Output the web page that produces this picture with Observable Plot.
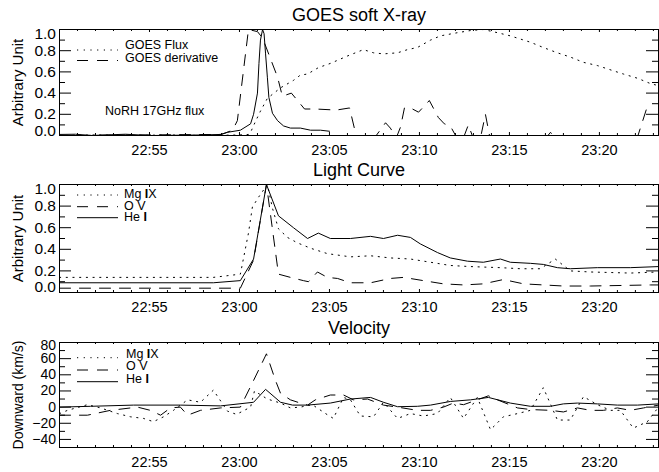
<!DOCTYPE html>
<html>
<head>
<meta charset="utf-8">
<script src="https://cdn.jsdelivr.net/npm/d3@7"></script>
<script src="https://cdn.jsdelivr.net/npm/@observablehq/plot@0.6"></script>
<style>
  html, body { margin: 0; padding: 0; background: #fff; }
  #chart { width: 659px; height: 472px; }
  #chart svg { display: block; }
</style>
</head>
<body>
<div id="chart"></div>
<script>
// ---- GOES soft X-ray panel: [UT time, normalised value] ----
const goesFlux = [
  ["22:50:00",0.00],["22:52:00",0.005],["22:54:00",0.00],["22:56:00",0.005],["22:58:00",0.00],
  ["23:00:00",0.005],["23:00:30",0.01],["23:00:37",0.03],["23:00:53",0.13],["23:01:10",0.23],
  ["23:01:33",0.35],["23:02:17",0.45],["23:03:00",0.52],["23:03:23",0.57],["23:03:47",0.58],
  ["23:04:23",0.64],["23:05:03",0.68],["23:06:00",0.75],["23:06:53",0.81],["23:07:27",0.78],
  ["23:08:00",0.77],["23:08:47",0.78],["23:09:20",0.81],["23:09:53",0.83],["23:10:37",0.90],
  ["23:11:10",0.94],["23:12:07",0.97],["23:12:50",0.99],["23:13:33",1.00],["23:14:20",0.97],
  ["23:15:03",0.94],["23:16:10",0.88],["23:16:53",0.83],["23:17:40",0.78],["23:18:23",0.74],
  ["23:19:07",0.69],["23:19:53",0.66],["23:20:47",0.61],["23:21:20",0.58],["23:22:07",0.54],
  ["23:22:50",0.49],["23:23:17",0.47]
];
const goesDerivative = [
  ["22:50:00",0.00],["22:59:00",0.01],["22:59:37",0.05],["22:59:53",0.14],["23:00:30",1.00],
  ["23:01:00",0.98],["23:01:17",0.92],["23:02:07",0.55],["23:02:23",0.37],["23:02:53",0.40],
  ["23:03:37",0.25],["23:04:13",0.25],["23:05:23",0.24],["23:06:07",0.26],["23:06:33",-0.05],
  ["23:07:23",-0.05],["23:08:07",0.12],["23:08:23",0.07],["23:08:43",-0.02],["23:08:57",0.08],
  ["23:09:10",0.26],["23:09:30",0.26],["23:09:57",0.22],["23:10:33",0.33],["23:11:03",0.17],
  ["23:11:23",0.11],["23:11:43",0.09],["23:12:10",-0.05],["23:12:27",-0.02],["23:12:43",0.10],
  ["23:13:00",-0.03],["23:13:23",-0.03],["23:13:40",0.20],["23:13:57",-0.05],["23:17:00",-0.03],
  ["23:17:17",0.03],["23:17:33",-0.03],["23:22:03",-0.05],["23:22:37",0.25]
];
const norh17GHz = [
  ["22:50:00",0.01],["22:50:53",0.012],["22:51:43",0.00],["22:53:40",0.012],["22:55:03",0.00],
  ["22:57:50",0.005],["22:58:57",0.01],["22:59:20",0.03],["23:00:03",0.05],["23:00:37",0.11],
  ["23:00:47",0.20],["23:01:00",0.40],["23:01:05",0.68],["23:01:10",0.90],["23:01:17",1.00],
  ["23:01:22",0.96],["23:01:27",0.77],["23:01:33",0.55],["23:01:38",0.36],["23:01:50",0.21],
  ["23:02:07",0.14],["23:02:27",0.09],["23:02:50",0.07],["23:03:23",0.07],["23:03:57",0.05],
  ["23:04:30",0.05],["23:05:00",0.04]
];

// ---- Light curves: [UT time, normalised intensity] ----
const lightMgIX = [
  ["22:50:00",0.14],["22:58:33",0.14],["23:00:03",0.17],["23:00:30",0.55],["23:00:43",0.79],
  ["23:01:03",0.88],["23:01:33",1.00],["23:01:50",0.78],["23:02:10",0.59],["23:02:40",0.51],
  ["23:03:13",0.46],["23:03:57",0.41],["23:04:53",0.36],["23:06:10",0.33],["23:07:17",0.34],
  ["23:08:23",0.32],["23:09:30",0.31],["23:10:37",0.28],["23:11:43",0.25],["23:12:50",0.24],
  ["23:14:30",0.23],["23:15:37",0.22],["23:16:43",0.22],["23:17:33",0.31],["23:18:23",0.20],
  ["23:19:30",0.19],["23:21:43",0.18],["23:23:17",0.19]
];
const lightOV = [
  ["22:50:00",0.04],["23:00:03",0.04],["23:00:47",0.30],["23:01:30",1.00],["23:02:10",0.17],
  ["23:02:50",0.14],["23:03:33",0.11],["23:03:50",0.10],["23:04:20",0.19],["23:04:53",0.14],
  ["23:05:27",0.13],["23:06:10",0.09],["23:07:17",0.09],["23:08:23",0.13],["23:09:07",0.14],
  ["23:10:13",0.11],["23:11:20",0.08],["23:12:27",0.07],["23:13:33",0.08],["23:14:40",0.12],
  ["23:15:47",0.08],["23:16:53",0.07],["23:18:00",0.06],["23:19:30",0.06],["23:22:50",0.07],
  ["23:23:17",0.07]
];
const lightHeI = [
  ["22:50:00",0.09],["22:58:33",0.09],["23:00:03",0.11],["23:00:47",0.31],["23:01:30",1.00],
  ["23:02:10",0.71],["23:03:00",0.60],["23:03:47",0.50],["23:04:23",0.55],["23:05:03",0.50],
  ["23:06:10",0.50],["23:07:17",0.52],["23:08:00",0.50],["23:08:47",0.53],["23:09:30",0.51],
  ["23:10:03",0.45],["23:11:00",0.37],["23:11:43",0.32],["23:12:40",0.29],["23:13:33",0.28],
  ["23:14:30",0.31],["23:15:03",0.28],["23:16:10",0.27],["23:16:53",0.26],["23:17:40",0.23],
  ["23:18:23",0.22],["23:19:53",0.23],["23:21:43",0.23],["23:23:17",0.24]
];

// ---- Downward velocity (km/s): [UT time, velocity] ----
const velMgIX = [
  ["22:50:00",-8],["22:50:27",-4],["22:51:33",3],["22:52:17",-1],["22:53:13",-8],["22:53:57",-12],
  ["22:54:40",-14],["22:55:13",-18],["22:55:47",-12],["22:56:20",-4],["22:57:07",9],["22:57:50",6],
  ["22:58:33",21],["22:59:20",-5],["22:59:50",-9],["23:00:37",0],["23:00:50",20],["23:01:33",10],
  ["23:02:17",5],["23:02:50",-1],["23:03:23",0],["23:04:03",3],["23:04:47",-8],["23:05:13",-14],
  ["23:05:47",12],["23:06:10",9],["23:06:43",-11],["23:07:27",-12],["23:08:00",6],["23:08:47",-14],
  ["23:09:30",-8],["23:10:13",-11],["23:11:00",-8],["23:11:43",12],["23:12:27",-14],["23:13:13",12],
  ["23:13:57",-28],["23:14:40",-12],["23:15:27",-8],["23:16:10",-4],["23:16:53",24],["23:17:40",-16],
  ["23:18:23",-16],["23:19:07",13],["23:19:53",3],["23:20:37",-4],["23:21:10",-4],["23:21:53",-26],
  ["23:22:40",-18],["23:23:17",0]
];
const velOV = [
  ["22:50:00",-10],["22:51:33",-10],["22:52:50",-4],["22:54:20",0],["22:55:03",-4],["22:55:37",-10],
  ["22:56:10",-1],["22:56:43",0],["22:57:07",-10],["22:57:50",-4],["22:58:57",-1],["23:00:03",0],
  ["23:00:47",33],["23:01:30",66],["23:02:00",33],["23:02:17",17],["23:02:50",9],["23:03:23",5],
  ["23:03:47",2.5],["23:04:13",9],["23:05:03",15],["23:05:47",15],["23:06:20",9],["23:07:07",10],
  ["23:08:00",2.5],["23:08:47",0],["23:09:53",-4],["23:10:37",-4],["23:11:20",0],["23:11:53",5],
  ["23:12:27",3],["23:13:13",9],["23:13:50",14],["23:14:20",9],["23:15:27",-1],["23:16:10",-3],
  ["23:17:17",-4],["23:18:00",-6],["23:18:47",-1],["23:19:30",-4],["23:20:13",-4],["23:21:00",-1],
  ["23:21:43",-4],["23:22:27",-1],["23:23:17",2.5]
];
const velHeI = [
  ["22:50:00",0],["22:51:43",1],["22:54:07",2.5],["22:56:43",2.5],["22:58:57",1.5],["23:00:47",6],
  ["23:01:27",22],["23:02:17",6],["23:02:57",2.5],["23:03:47",2.5],["23:05:03",5],["23:06:10",10],
  ["23:07:17",12],["23:08:00",6],["23:08:47",0.5],["23:09:53",1],["23:10:37",2.5],["23:11:43",7],
  ["23:12:50",9],["23:13:50",12],["23:15:03",5],["23:16:10",1],["23:17:17",1],["23:18:00",4],
  ["23:18:47",5],["23:19:53",4],["23:21:00",2.5],["23:22:07",2.5],["23:23:17",4]
];

// ---- Axis ticks and text ----
const timeRange = ["22:50:00", "23:23:17"];
const timeMajor = ["22:55", "23:00", "23:05", "23:10", "23:15", "23:20"];
const timeMinor = ["22:51","22:52","22:53","22:54","22:56","22:57","22:58","22:59","23:01","23:02","23:03","23:04",
  "23:06","23:07","23:08","23:09","23:11","23:12","23:13","23:14","23:16","23:17","23:18","23:19","23:21","23:22","23:23"];
const unitMajor = [0, 0.2, 0.4, 0.6, 0.8, 1.0];
const unitMinor = [0.1, 0.3, 0.5, 0.7, 0.9];
const velMajor = [-40, -20, 0, 20, 40, 60, 80];
const velMinor = [-30, -10, 10, 30, 50, 70];
const titles = ["GOES soft X-ray", "Light Curve", "Velocity"];
const yTitles = ["Arbitrary Unit", "Arbitrary Unit", "Downward (km/s)"];
const goesLegend = ["GOES Flux", "GOES derivative"];
const norhNote = "NoRH 17GHz flux";
// line names, split so the ionisation numeral "I" can be set in bold
const lineLegend = [[["Mg ", false], ["I", true], ["X", false]], [["O V", false]], [["He ", false], ["I", true]]];

// ---- drawing ----
const FONT = '"Liberation Sans", Arial, Helvetica, sans-serif';
const W = 659, ML = 59, MR = 1;
const DOT = "1.2,5.5", DASH = "11,9";
const T = (s) => { const [h, m, sec = 0] = s.split(":").map(Number); return new Date(Date.UTC(2000, 0, 1, h, m, sec)); };
const rows = (pairs) => pairs.map(([t, v]) => ({t: T(t), v}));

function panel(cfg) {
  const {height, marginTop, marginBottom, title, yTitle, yTitleSize, yTickSize, yDomain, yMajor, yMinor, yFormat, topShift, bottomShift, lines} = cfg;
  const innerW = W - ML - MR, innerH = height - marginTop - marginBottom;
  const xMaj = timeMajor.map(T), xMin = timeMinor.map(T);
  const inner = yMajor.filter((d) => d !== yDomain[0] && d !== yDomain[1]);
  const axisOpts = {tickSize: 0, tickPadding: 3.5, tickFormat: yFormat, fontSize: yTickSize, label: null};
  const marks = [
    ...lines.map((l) => Plot.line(rows(l.data), {x: "t", y: "v", stroke: "#000", strokeWidth: 1, strokeDasharray: l.dash, clip: true})),
    Plot.frame({stroke: "#000", strokeWidth: 1}),
    // inward ticks on all four sides
    Plot.tickX(xMaj, {x: (d) => d, insetTop: innerH - 3}),
    Plot.tickX(xMaj, {x: (d) => d, insetBottom: innerH - 3}),
    Plot.tickX(xMin, {x: (d) => d, insetTop: innerH - 2}),
    Plot.tickX(xMin, {x: (d) => d, insetBottom: innerH - 2}),
    Plot.tickY(yMajor, {y: (d) => d, insetRight: innerW - 12}),
    Plot.tickY(yMajor, {y: (d) => d, insetLeft: innerW - 12}),
    Plot.tickY(yMinor, {y: (d) => d, insetRight: innerW - 6}),
    Plot.tickY(yMinor, {y: (d) => d, insetLeft: innerW - 6}),
    Plot.axisX(xMaj, {tickSize: 0, tickPadding: 9, tickFormat: d3.utcFormat("%H:%M"), fontSize: 14.5, label: null}),
    Plot.axisY(inner, axisOpts),
    Plot.text([title], {text: (d) => d, frameAnchor: "top", dy: -14, fontSize: 18, lineAnchor: "middle"}),
    Plot.text([yTitle], {text: (d) => d, frameAnchor: "left", dx: -41, rotate: -90, fontSize: yTitleSize, lineAnchor: "middle", textAnchor: "middle"})
  ];
  if (yMajor.includes(yDomain[1])) marks.push(Plot.axisY([yDomain[1]], {...axisOpts, dy: topShift}));
  if (yMajor.includes(yDomain[0])) marks.push(Plot.axisY([yDomain[0]], {...axisOpts, dy: -bottomShift}));
  return Plot.plot({
    width: W, height, marginLeft: ML, marginRight: MR, marginTop, marginBottom,
    style: {fontFamily: FONT, fontSize: "15px", color: "#000", background: "#fff", overflow: "visible"},
    x: {type: "utc", domain: timeRange.map(T), label: null},
    y: {domain: yDomain, label: null},
    marks
  });
}

function legend(svg, items) {
  const g = d3.select(svg).append("g")
    .attr("font-family", FONT).attr("font-size", 12.5).attr("fill", "#000").attr("text-anchor", "start");
  for (const it of items) {
    if (it.dash !== undefined) {
      g.append("line").attr("x1", 77).attr("x2", 118).attr("y1", it.ly).attr("y2", it.ly)
        .attr("stroke", "#000").attr("stroke-width", 1).attr("stroke-dasharray", it.dash);
    }
    const t = g.append("text").attr("x", it.tx).attr("y", it.ty);
    for (const [s, bold] of it.parts) t.append("tspan").attr("font-weight", bold ? "bold" : null).text(s);
  }
}

const f1 = d3.format(".1f");
const p1 = panel({
  height: 157, marginTop: 29, marginBottom: 22, title: titles[0], yTitle: yTitles[0], yTitleSize: 15, yTickSize: 15.5,
  yDomain: [0, 1], yMajor: unitMajor, yMinor: unitMinor, yFormat: f1, topShift: 4.5, bottomShift: 4.5,
  lines: [{data: goesFlux, dash: DOT}, {data: goesDerivative, dash: DASH}, {data: norh17GHz, dash: null}]
});
legend(p1, [
  {parts: [[goesLegend[0], false]], dash: DOT, ly: 50, tx: 125, ty: 48.5},
  {parts: [[goesLegend[1], false]], dash: DASH, ly: 60.5, tx: 125, ty: 61.5},
  {parts: [[norhNote, false]], tx: 105, ty: 115}
]);

const p2 = panel({
  height: 157, marginTop: 27, marginBottom: 22, title: titles[1], yTitle: yTitles[1], yTitleSize: 15, yTickSize: 15.5,
  yDomain: [0, 1], yMajor: unitMajor, yMinor: unitMinor, yFormat: f1, topShift: 5, bottomShift: 5,
  lines: [{data: lightMgIX, dash: DOT}, {data: lightOV, dash: DASH}, {data: lightHeI, dash: null}]
});
legend(p2, [
  {parts: lineLegend[0], dash: DOT, ly: 38, tx: 124, ty: 41},
  {parts: lineLegend[1], dash: DASH, ly: 49.7, tx: 124, ty: 53},
  {parts: lineLegend[2], dash: null, ly: 60.7, tx: 124, ty: 63.7}
]);

const p3 = panel({
  height: 158, marginTop: 28, marginBottom: 25, title: titles[2], yTitle: yTitles[2], yTitleSize: 14, yTickSize: 14,
  yDomain: [-50, 80], yMajor: velMajor, yMinor: velMinor, yFormat: d3.format("d"), topShift: 3, bottomShift: 0,
  lines: [{data: velMgIX, dash: DOT}, {data: velOV, dash: DASH}, {data: velHeI, dash: null}]
});
legend(p3, [
  {parts: lineLegend[0], dash: DOT, ly: 43.7, tx: 126, ty: 43.5},
  {parts: lineLegend[1], dash: DASH, ly: 56, tx: 126, ty: 56},
  {parts: lineLegend[2], dash: null, ly: 67.7, tx: 126, ty: 69}
]);

const chart = document.getElementById("chart");
chart.append(p1, p2, p3);
</script>
</body>
</html>
